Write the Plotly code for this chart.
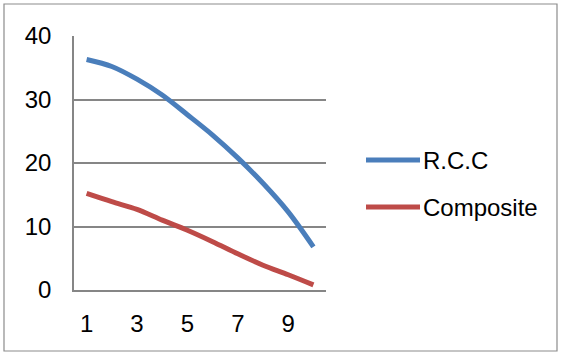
import plotly.graph_objects as go

# Series data
x_points = [1, 2, 3, 4, 5, 6, 7, 8, 9, 10]
rcc = [36.3, 35.2, 33.2, 30.7, 27.6, 24.4, 20.8, 16.8, 12.3, 6.8]
composite = [15.2, 13.9, 12.7, 11.0, 9.4, 7.6, 5.7, 3.9, 2.4, 0.8]
series_names = ["R.C.C", "Composite"]
series_colors = ["#4A7EBB", "#BE4B48"]
x_tick_vals = [1, 3, 5, 7, 9]
y_tick_vals = [0, 10, 20, 30, 40]

W, H = 561, 354
L, R, T, B = 74, 235, 36, 64
pw, ph = W - L - R, H - T - B

fig = go.Figure()
for name, vals, col in zip(series_names, [rcc, composite], series_colors):
    fig.add_trace(go.Scatter(
        x=x_points, y=vals, mode="lines", name=name,
        line=dict(color=col, width=5, shape="spline", smoothing=0.9),
        showlegend=False,
    ))

font = dict(family="Liberation Sans, Arial, sans-serif", size=24, color="#000000")

# Outer chart border
def px_x(p):
    return (p - L) / pw

def px_y(p):
    return 1 - (p - T) / ph

shapes = [dict(type="rect", xref="paper", yref="paper",
               x0=px_x(4), x1=px_x(557), y0=px_y(351), y1=px_y(4),
               line=dict(color="#8C8C8C", width=1.2), fillcolor="rgba(0,0,0,0)")]

# Legend drawn as line samples with text
legend_y = [160, 207]
annotations = []
for name, col, ly in zip(series_names, series_colors, legend_y):
    shapes.append(dict(type="line", xref="paper", yref="paper",
                       x0=px_x(366), x1=px_x(420), y0=px_y(ly), y1=px_y(ly),
                       line=dict(color=col, width=5)))
    annotations.append(dict(xref="paper", yref="paper", x=px_x(421), y=px_y(ly),
                            text=name, showarrow=False, xanchor="left", yanchor="middle",
                            font=font))

fig.update_layout(
    width=W, height=H,
    margin=dict(l=L, r=R, t=T, b=B),
    paper_bgcolor="white", plot_bgcolor="white",
    font=font,
    shapes=shapes,
    annotations=annotations,
    xaxis=dict(range=[0.5, 10.5], tickvals=x_tick_vals, showgrid=False,
               showline=True, linecolor="#868686", linewidth=1.5,
               zeroline=False, ticks="", ticklabelstandoff=11, tickfont=font),
    yaxis=dict(range=[0, 40], tickvals=y_tick_vals, showgrid=True,
               gridcolor="#868686", gridwidth=1.5,
               showline=True, linecolor="#868686", linewidth=1.5,
               zeroline=False, ticks="", ticklabelstandoff=16, tickfont=font),
)

fig.write_html("out.html")
